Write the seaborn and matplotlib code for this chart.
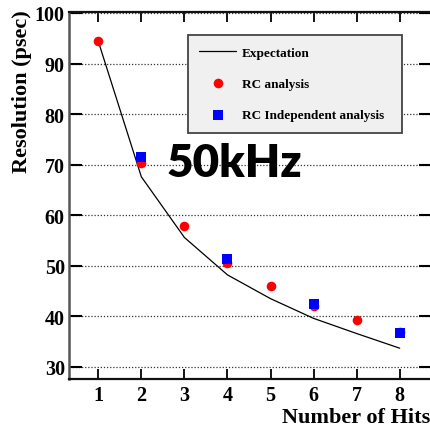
import matplotlib
matplotlib.use("Agg")
import matplotlib.pyplot as plt
import seaborn as sns
import pandas as pd

# Time resolution versus number of hits at 50 kHz
hits = [1, 2, 3, 4, 5, 6, 7, 8]
expectation = [94.4, 67.6, 55.6, 48.2, 43.5, 39.6, 36.6, 33.7]
rc_analysis = [94.4, 70.4, 57.8, 50.5, 46.0, 42.1, 39.2, 37.0]
indep_hits = [2, 4, 6, 8]
rc_independent = [71.6, 51.4, 42.4, 36.8]

y_ticks = [30, 40, 50, 60, 70, 80, 90, 100]
x_ticks = [1, 2, 3, 4, 5, 6, 7, 8]

sns.set_style("white")
plt.rcParams["font.family"] = ["Liberation Serif", "DejaVu Serif"]
plt.rcParams["font.weight"] = "bold"
plt.rcParams["text.color"] = "black"
plt.rcParams["axes.labelcolor"] = "black"

df_exp = pd.DataFrame({"hits": hits, "res": expectation})
df_rc = pd.DataFrame({"hits": hits, "res": rc_analysis})
df_ind = pd.DataFrame({"hits": indep_hits, "res": rc_independent})

fig = plt.figure(figsize=(4.31, 4.27), dpi=100)
ax = fig.add_axes([0.1601, 0.110, 0.8392, 0.8596])

sns.lineplot(data=df_exp, x="hits", y="res", ax=ax, color="black",
             linewidth=0.9, label="Expectation", zorder=3)
sns.scatterplot(data=df_rc, x="hits", y="res", ax=ax, color="#ff0000",
                marker="o", s=48, linewidth=0, label="RC analysis", zorder=4)
sns.scatterplot(data=df_ind, x="hits", y="res", ax=ax, color="#0000ff",
                marker="s", s=44, linewidth=0,
                label="RC Independent analysis", zorder=5)

ax.set_xlim(0.32, 8.72)
ax.set_ylim(27.6, 100.2)
ax.set_xticks(x_ticks)
ax.set_yticks(y_ticks)
ax.set_xticklabels([str(v) for v in x_ticks])
ax.set_yticklabels([str(v) for v in y_ticks])

ax.yaxis.grid(True, linestyle=(0, (1, 1.5)), color="#333333", linewidth=0.9)
ax.xaxis.grid(False)
ax.set_axisbelow(True)

ax.tick_params(axis="y", which="major", direction="in", length=9,
               width=1.5, left=True, right=True, labelsize=14.5, pad=3,
               colors="black")
ax.tick_params(axis="x", which="major", direction="in", length=7.5,
               width=1.3, bottom=True, top=True, labelsize=14.5, pad=4,
               colors="black")
for lab in ax.get_xticklabels() + ax.get_yticklabels():
    lab.set_fontweight("bold")
    lab.set_color("black")

for side in ["left", "right"]:
    ax.spines[side].set_color("#555555")
    ax.spines[side].set_linewidth(1.8)
for side in ["top", "bottom"]:
    ax.spines[side].set_color("#111111")
    ax.spines[side].set_linewidth(1.6)

ax.set_xlabel("Number of Hits", fontsize=16, fontweight="bold",
              color="black")
ax.xaxis.set_label_coords(1.0, -0.1035)
ax.xaxis.label.set_ha("right")
ax.xaxis.label.set_va("center")

ax.set_ylabel("Resolution (psec)", fontsize=16, fontweight="bold",
              color="black")
ax.yaxis.set_label_coords(-0.131, 0.786)
ax.yaxis.label.set_va("center")
ax.yaxis.label.set_ha("center")

leg = ax.legend(loc="upper left", bbox_to_anchor=(0.329, 0.937, 0.593, 0.0),
                mode="expand", borderaxespad=0, fancybox=False,
                frameon=True, handlelength=2.8,
                handletextpad=0.45, labelspacing=1.45, borderpad=0.85,
                prop={"family": "Liberation Serif", "weight": "bold",
                      "size": 9.5})
for t in leg.get_texts():
    t.set_color("black")
frame = leg.get_frame()
frame.set_facecolor("#f0f0f0")
frame.set_edgecolor("#444444")
frame.set_linewidth(1.3)
frame.set_alpha(1.0)

fig.text(0.543, 0.5855, "50kHz", fontsize=33, fontweight="heavy",
         family=["Lato", "DejaVu Sans"], ha="center", va="baseline",
         color="black")

fig.savefig("out.png", dpi=100)
